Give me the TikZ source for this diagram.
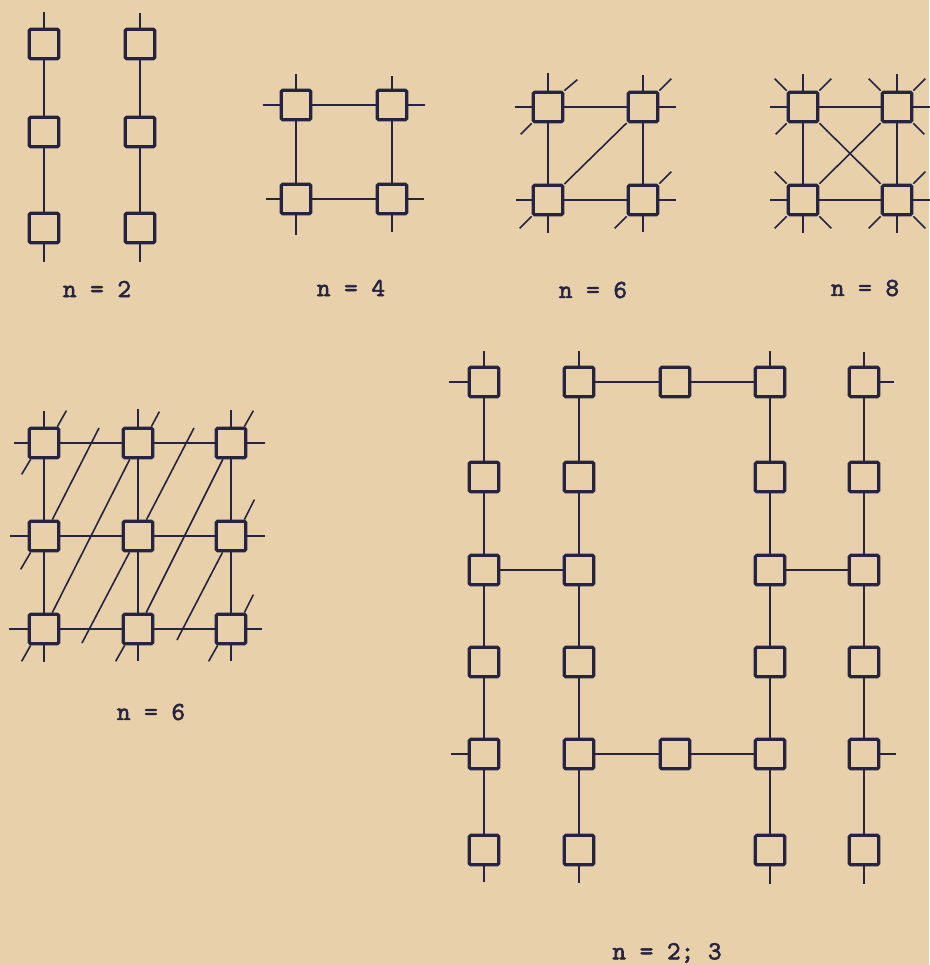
\documentclass[tikz,border=0pt]{standalone}
\usepackage{fontspec}
\newfontfamily\labfont{lmmono10-regular}[Extension=.otf, FakeBold=2.2]
\usetikzlibrary{calc}
\definecolor{paper}{RGB}{232,209,170}
\definecolor{ink}{RGB}{38,36,66}
\begin{document}
\begin{tikzpicture}[x=1pt,y=-1pt,
  cell/.style={draw=ink, line width=3.2pt, fill=paper, minimum size=29.5pt, inner sep=0pt, rounded corners=1.5pt},
  link/.style={draw=ink, line width=1.6pt},
  lab/.style={font=\labfont\fontsize{26}{30}\selectfont, text=ink}]
\fill[paper] (0,0) rectangle (929,965);
\useasboundingbox (0,0) rectangle (929,965);

% ---------- n = 2 (two chains)
\node[cell] (a1) at (44,44) {};
\node[cell] (a2) at (44,132) {};
\node[cell] (a3) at (44,228) {};
\node[cell] (b1) at (140,44) {};
\node[cell] (b2) at (140,132) {};
\node[cell] (b3) at (140,228) {};
\draw[link] (a1) -- (a2) -- (a3);
\draw[link] (b1) -- (b2) -- (b3);
\draw[link] (a1.north) -- ++(0,-16);
\draw[link] (b1.north) -- ++(0,-15);
\draw[link] (a3.south) -- ++(0,18);
\draw[link] (b3.south) -- ++(0,18);
\node[lab] (l1) at (97,289) {n = 2};

% ---------- n = 4
\node[cell] (p1) at (296,105) {};
\node[cell] (p2) at (392,105) {};
\node[cell] (p3) at (296,199) {};
\node[cell] (p4) at (392,199) {};
\draw[link] (p1) -- (p2) -- (p4) -- (p3) -- (p1);
\draw[link] (p1.north) -- ++(0,-15);
\draw[link] (p1.west) -- ++(-17,0);
\draw[link] (p2.north) -- ++(0,-13);
\draw[link] (p2.east) -- ++(17,0);
\draw[link] (p3.west) -- ++(-14,0);
\draw[link] (p3.south) -- ++(0,20);
\draw[link] (p4.east) -- ++(16,0);
\draw[link] (p4.south) -- ++(0,17);
\node[lab] (l2) at (351,288) {n = 4};

% ---------- n = 6 (square with one diagonal)
\node[cell] (q1) at (548,107) {};
\node[cell] (q2) at (643,107) {};
\node[cell] (q3) at (548,200) {};
\node[cell] (q4) at (643,200) {};
\draw[link] (q1) -- (q2) -- (q4) -- (q3) -- (q1);
\draw[link] (q2) -- (q3);
\draw[link] (q1.north) -- ++(0,-18);
\draw[link] (q1.west) -- ++(-17,0);
\draw[link] (q1.north east) -- ++(13,-11);
\draw[link] (q1.south west) -- ++(-11,11);
\draw[link] (q2.north) -- ++(0,-16);
\draw[link] (q2.east) -- ++(17,0);
\draw[link] (q2.north east) -- ++(12,-12);
\draw[link] (q3.west) -- ++(-16,0);
\draw[link] (q3.south) -- ++(0,17);
\draw[link] (q3.south west) -- ++(-12,12);
\draw[link] (q4.east) -- ++(17,0);
\draw[link] (q4.south) -- ++(0,16);
\draw[link] (q4.north east) -- ++(12,-12);
\draw[link] (q4.south west) -- ++(-12,12);
\node[lab] (l3) at (593,290) {n = 6};

% ---------- n = 8 (square with both diagonals)
\node[cell] (r1) at (803,107) {};
\node[cell] (r2) at (897,107) {};
\node[cell] (r3) at (803,200) {};
\node[cell] (r4) at (897,200) {};
\draw[link] (r1) -- (r2) -- (r4) -- (r3) -- (r1);
\draw[link] (r1) -- (r4);
\draw[link] (r2) -- (r3);
\draw[link] (r1.north) -- ++(0,-17);
\draw[link] (r1.west) -- ++(-17,0);
\draw[link] (r1.north west) -- ++(-12,-12);
\draw[link] (r1.north east) -- ++(12,-12);
\draw[link] (r1.south west) -- ++(-11,11);
\draw[link] (r2.north) -- ++(0,-17);
\draw[link] (r2.east) -- ++(17,0);
\draw[link] (r2.north west) -- ++(-12,-12);
\draw[link] (r2.north east) -- ++(12,-12);
\draw[link] (r2.south east) -- ++(11,11);
\draw[link] (r3.west) -- ++(-17,0);
\draw[link] (r3.south) -- ++(0,17);
\draw[link] (r3.north west) -- ++(-12,-12);
\draw[link] (r3.south west) -- ++(-12,12);
\draw[link] (r3.south east) -- ++(12,12);
\draw[link] (r4.east) -- ++(17,0);
\draw[link] (r4.south) -- ++(0,17);
\draw[link] (r4.north east) -- ++(12,-12);
\draw[link] (r4.south west) -- ++(-12,12);
\draw[link] (r4.south east) -- ++(12,12);
\node[lab] (l4) at (865,288) {n = 8};

% ---------- n = 6 (3x3 grid with skew links)
\node[cell] (g11) at (44,443) {};
\node[cell] (g12) at (138,443) {};
\node[cell] (g13) at (231,443) {};
\node[cell] (g21) at (44,536) {};
\node[cell] (g22) at (138,536) {};
\node[cell] (g23) at (231,536) {};
\node[cell] (g31) at (44,629) {};
\node[cell] (g32) at (138,629) {};
\node[cell] (g33) at (231,629) {};
\draw[link] (g11) -- (g12) -- (g13);
\draw[link] (g21) -- (g22) -- (g23);
\draw[link] (g31) -- (g32) -- (g33);
\draw[link] (g11) -- (g21) -- (g31);
\draw[link] (g12) -- (g22) -- (g32);
\draw[link] (g13) -- (g23) -- (g33);
\draw[link] (g12) -- (g31);
\draw[link] (g13) -- (g32);
\draw[link] (g21) -- ($(g21)+(55,-108)$);
\draw[link] (g22) -- ($(g22)+(56,-108)$);
\draw[link] (g22) -- ($(g22)+(-56,107)$);
\draw[link] (g23) -- ($(g23)+(-54,104)$);
% straight stubs
\draw[link] (g11.north) -- ++(0,-16);
\draw[link] (g11.west) -- ++(-14,0);
\draw[link] (g12.north) -- ++(0,-18);
\draw[link] (g13.north) -- ++(0,-17);
\draw[link] (g13.east) -- ++(18,0);
\draw[link] (g21.west) -- ++(-18,0);
\draw[link] (g23.east) -- ++(18,0);
\draw[link] (g31.west) -- ++(-19,0);
\draw[link] (g31.south) -- ++(0,17);
\draw[link] (g32.south) -- ++(0,16);
\draw[link] (g33.east) -- ++(15,0);
\draw[link] (g33.south) -- ++(0,16);
% skew stubs
\draw[link] ($(g11.north east)+(-3,0)$) -- ++(9,-16);
\draw[link] ($(g12.north east)+(-3,0)$) -- ++(8,-15);
\draw[link] ($(g13.north east)+(-3,0)$) -- ++(9,-16);
\draw[link] ($(g23.north east)+(-3,0)$) -- ++(10,-20);
\draw[link] ($(g33.north east)+(-3,0)$) -- ++(9,-18);
\draw[link] ($(g11.south west)+(3,0)$) -- ++(-9,15);
\draw[link] ($(g21.south west)+(3,0)$) -- ++(-10,17);
\draw[link] ($(g31.south west)+(3,0)$) -- ++(-9,16);
\draw[link] ($(g32.south west)+(3,0)$) -- ++(-9,16);
\draw[link] ($(g33.south west)+(3,0)$) -- ++(-9,16);
\node[lab] (l5) at (151,712) {n = 6};

% ---------- n = 2; 3 (large structure)
\foreach \c/\x in {1/484,2/579,4/770,5/864}{
  \foreach \r/\y in {1/382,2/477,3/570,4/662,5/754,6/850}{
    \node[cell] (c\c\r) at (\x,\y) {};
  }
  \draw[link] (c\c1) -- (c\c2) -- (c\c3) -- (c\c4) -- (c\c5) -- (c\c6);
}
\node[cell] (m1) at (675,382) {};
\node[cell] (m5) at (675,754) {};
\draw[link] (c21) -- (m1) -- (c41);
\draw[link] (c25) -- (m5) -- (c45);
\draw[link] (c13) -- (c23);
\draw[link] (c43) -- (c53);
\draw[link] (c11.north) -- ++(0,-15);
\draw[link] (c11.west) -- ++(-19,0);
\draw[link] (c21.north) -- ++(0,-15);
\draw[link] (c41.north) -- ++(0,-15);
\draw[link] (c51.north) -- ++(0,-14);
\draw[link] (c51.east) -- ++(14,0);
\draw[link] (c15.west) -- ++(-17,0);
\draw[link] (c55.east) -- ++(16,0);
\draw[link] (c16.south) -- ++(0,16);
\draw[link] (c26.south) -- ++(0,17);
\draw[link] (c46.south) -- ++(0,18);
\draw[link] (c56.south) -- ++(0,18);
\node[lab] (l6) at (667,953) {n = 2; 3};
\end{tikzpicture}
\end{document}
